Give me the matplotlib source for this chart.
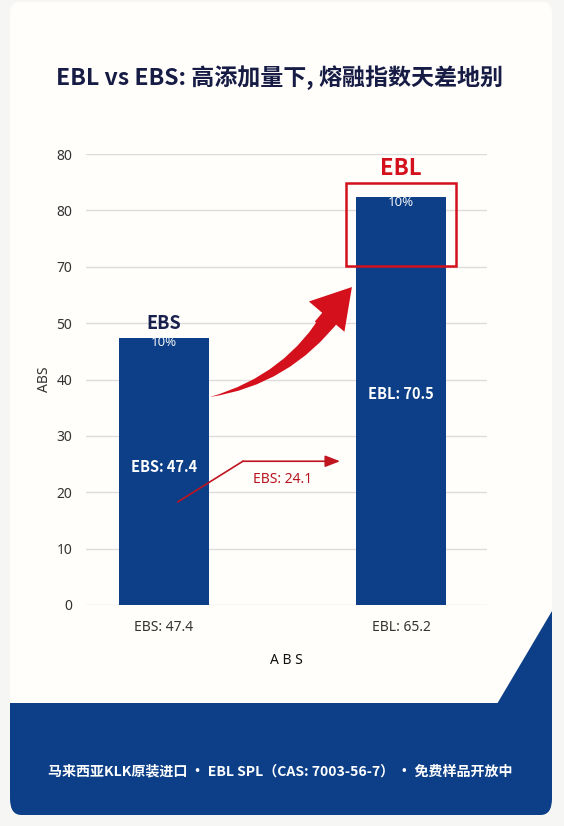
import matplotlib
matplotlib.use("Agg")
import matplotlib.pyplot as plt
from matplotlib.patches import FancyBboxPatch, Polygon, Rectangle
import numpy as np

plt.rcParams['font.family'] = ['Noto Sans CJK SC', 'DejaVu Sans']
LAT = ['Noto Sans', 'DejaVu Sans']

# ---- data ----
categories = ["EBS: 47.4", "EBL: 65.2"]
bar_values = [47.4, 72.3]
bar_names = ["EBS", "EBL"]
inner_labels = ["EBS: 47.4", "EBL: 70.5"]
inner_label_y = [24.5, 37.4]
pct_labels = ["10%", "10%"]
ytick_values = [0, 10, 20, 30, 40, 50, 60, 70, 80]
ytick_labels = ["0", "10", "20", "30", "40", "50", "70", "80", "80"]
diff_label = "EBS: 24.1"
title = "EBL vs EBS: 高添加量下, 熔融指数天差地别"
footer = "马来西亚KLK原装进口 • EBL SPL（CAS: 7003-56-7） • 免费样品开放中"

W, H = 564, 826
fig = plt.figure(figsize=(W / 100, H / 100), dpi=100)
fig.patch.set_facecolor("#f6f6f4")

def fx(px):
    return px / W

def fy(py):
    return 1 - py / H

NAVY = "#0c3f87"
RED = "#d3101c"

# card
card = FancyBboxPatch((fx(10), fy(815)), fx(542), (815 - 2) / H,
                      boxstyle="round,pad=0,rounding_size=0.015",
                      transform=fig.transFigure, facecolor="#fffefb",
                      edgecolor="none", zorder=-3)
fig.patches.append(card)

# blue band at bottom
band = FancyBboxPatch((fx(10), fy(815)), fx(542), (815 - 703) / H,
                      boxstyle="round,pad=0,rounding_size=0.02",
                      transform=fig.transFigure, facecolor=NAVY,
                      edgecolor="none", zorder=-2)
fig.patches.append(band)
band_top = Rectangle((fx(10), fy(760)), fx(542), (760 - 703) / H,
                     transform=fig.transFigure, facecolor=NAVY,
                     edgecolor="none", zorder=-2)
fig.patches.append(band_top)
tri = Polygon([(fx(552), fy(611)), (fx(552), fy(704)), (fx(497), fy(704))],
              closed=True, transform=fig.transFigure, facecolor=NAVY,
              edgecolor="none", zorder=-2)
fig.patches.append(tri)

# title
fig.text(fx(280), fy(78), title, ha="center", va="center", fontsize=16.6,
         fontweight="bold", color="#171c45")

# footer
fig.text(fx(280), fy(771), footer, ha="center", va="center", fontsize=10.1,
         fontweight="bold", color="white")

# axes
ax = fig.add_axes([fx(86), fy(605), fx(487) - fx(86), (605 - 154) / H])
ax.set_zorder(5)
ax.set_facecolor("none")
x = np.arange(len(categories))
ax.bar(x, bar_values, width=0.38, color=NAVY, zorder=3)
ax.set_xlim(-0.329, 1.363)
ax.set_ylim(0, 80)
ax.set_yticks(ytick_values)
ax.set_yticklabels(ytick_labels, family=LAT)
ax.set_xticks(x)
ax.set_xticklabels(categories, family=LAT)
ax.tick_params(axis="both", length=0, labelsize=10, colors="#333333")
ax.tick_params(axis="y", pad=10)
ax.tick_params(axis="x", pad=11)
ax.grid(axis="y", color="#dcdcdc", linewidth=1, zorder=0)
ax.set_axisbelow(True)
for s in ax.spines.values():
    s.set_visible(False)
ax.set_ylabel("ABS", fontsize=10, color="#333333", labelpad=3, family=LAT)
ax.set_xlabel("A B S", fontsize=10, color="#111111", labelpad=13, family=LAT)

# labels on bars
for i, v in enumerate(bar_values):
    ax.text(i, v - 0.9, pct_labels[i], ha="center", va="center", fontsize=9.5,
            color="#eef1f7", zorder=5, family=LAT)
    ax.text(i, inner_label_y[i], inner_labels[i], ha="center", va="center",
            fontsize=10.5, fontweight="bold", color="white", zorder=5)

ax.text(0, bar_values[0] + 0.9, bar_names[0], ha="center", va="bottom",
        fontsize=13, fontweight="bold", color="#18204e", zorder=5)
ax.text(1, 75.3, bar_names[1], ha="center", va="bottom",
        fontsize=16, fontweight="bold", color=RED, zorder=5)

# red highlight box
ax.add_patch(Rectangle((0.768, 60.1), 0.464, 14.7, fill=False,
                       edgecolor=RED, linewidth=1.8, zorder=6))

# big curved arrow: tapered body (wedge drawn from head back to tail) + head
start_pt = (0.194, 36.9)
end_pt = (0.793, 56.4)
ax.annotate("", xy=start_pt, xytext=(0.712, 51.6),
            arrowprops=dict(arrowstyle="wedge,tail_width=0.95,shrink_factor=0.5",
                            connectionstyle="arc3,rad=-0.2",
                            color=RED, shrinkA=0, shrinkB=0,
                            mutation_scale=14, linewidth=0),
            zorder=7)
ax.annotate("", xy=end_pt, xytext=(0.655, 49.6),
            arrowprops=dict(arrowstyle="simple,head_length=2.0,head_width=2.4,tail_width=0.6",
                            connectionstyle="arc3,rad=0.0",
                            color=RED, shrinkA=0, shrinkB=0,
                            mutation_scale=14, linewidth=0),
            zorder=7)

# thin arrow
ax.plot([0.059, 0.333], [18.3, 25.5], color="#c0141f", linewidth=1.2, zorder=7)
ax.annotate("", xy=(0.743, 25.5), xytext=(0.333, 25.5),
            arrowprops=dict(arrowstyle="-|>,head_length=0.9,head_width=0.35",
                            color="#c0141f", linewidth=1.2, shrinkA=0, shrinkB=0),
            zorder=7)
ax.text(0.502, 22.3, diff_label, ha="center", va="center", fontsize=10,
        color="#b8141f", zorder=7, family=LAT)

fig.savefig("out.png", dpi=100, facecolor=fig.get_facecolor())
